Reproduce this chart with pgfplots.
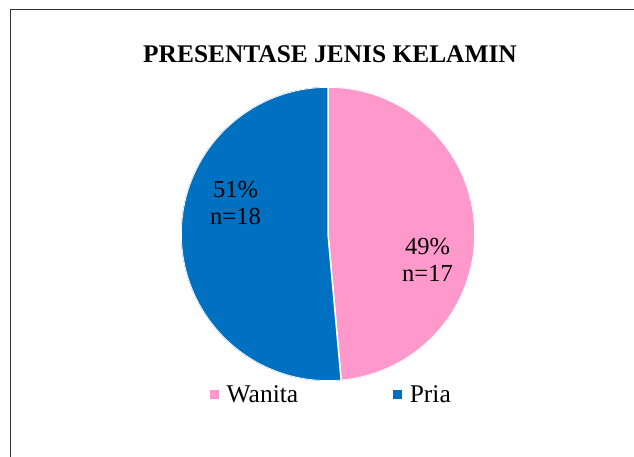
\documentclass[border=0pt]{standalone}
\usepackage{fontspec}
\setmainfont{Liberation Serif}
\usepackage{pgfplots}
\pgfplotsset{compat=1.18}
\usepgfplotslibrary{polar}
\definecolor{wanita}{HTML}{FF99CC}
\definecolor{pria}{HTML}{0070C0}
\begin{document}
\begin{tikzpicture}[x=1bp,y=1bp]
\def\nW{17}
\def\nP{18}
\pgfmathsetmacro{\aEnd}{90-360*\nW/(\nW+\nP)}
\pgfmathsetmacro{\aEndP}{\aEnd+360}
\useasboundingbox (0,0) rectangle (634,457);
\draw[line width=1bp, black!80] (10,-20) -- (10,447) -- (660,447);
\node[font=\fontsize{25.4bp}{30bp}\selectfont\bfseries, anchor=base] at (330,394) {PRESENTASE JENIS KELAMIN};
\begin{polaraxis}[at={(328bp,223bp)}, anchor=center, width=294bp, height=294bp, scale only axis, hide axis,
  ymin=0, ymax=1, xmin=0, xmax=360,
  legend columns=2,
  legend style={at={(0.5,0)}, anchor=north, xshift=3bp, yshift=0bp, draw=none, fill=none,
    font=\fontsize{25.5bp}{30bp}\selectfont,
    /tikz/every even column/.append style={column sep=92bp}},
  legend image code/.code={\path (0bp,0bp) -- (14bp,0bp);\fill[#1,draw=none] (0bp,-4.5bp) rectangle (9bp,4.5bp);}]
\addplot[fill=wanita, draw=white, line width=1.5bp, domain=\aEnd:90, samples=150] {1} -- (axis cs:0,0) -- cycle;
\addlegendentry{Wanita}
\addplot[fill=pria, draw=white, line width=1.5bp, domain=90:\aEndP, samples=150] {1} -- (axis cs:0,0) -- cycle;
\addlegendentry{Pria}
\end{polaraxis}
\begin{scope}[every node/.style={font=\fontsize{24.5bp}{29bp}\selectfont, anchor=base}]
\node at (235.5,259) {51\%};
\node at (235.5,232) {n=18};
\node at (427.5,202) {49\%};
\node at (427.5,175) {n=17};
\end{scope}
\end{tikzpicture}
\end{document}
